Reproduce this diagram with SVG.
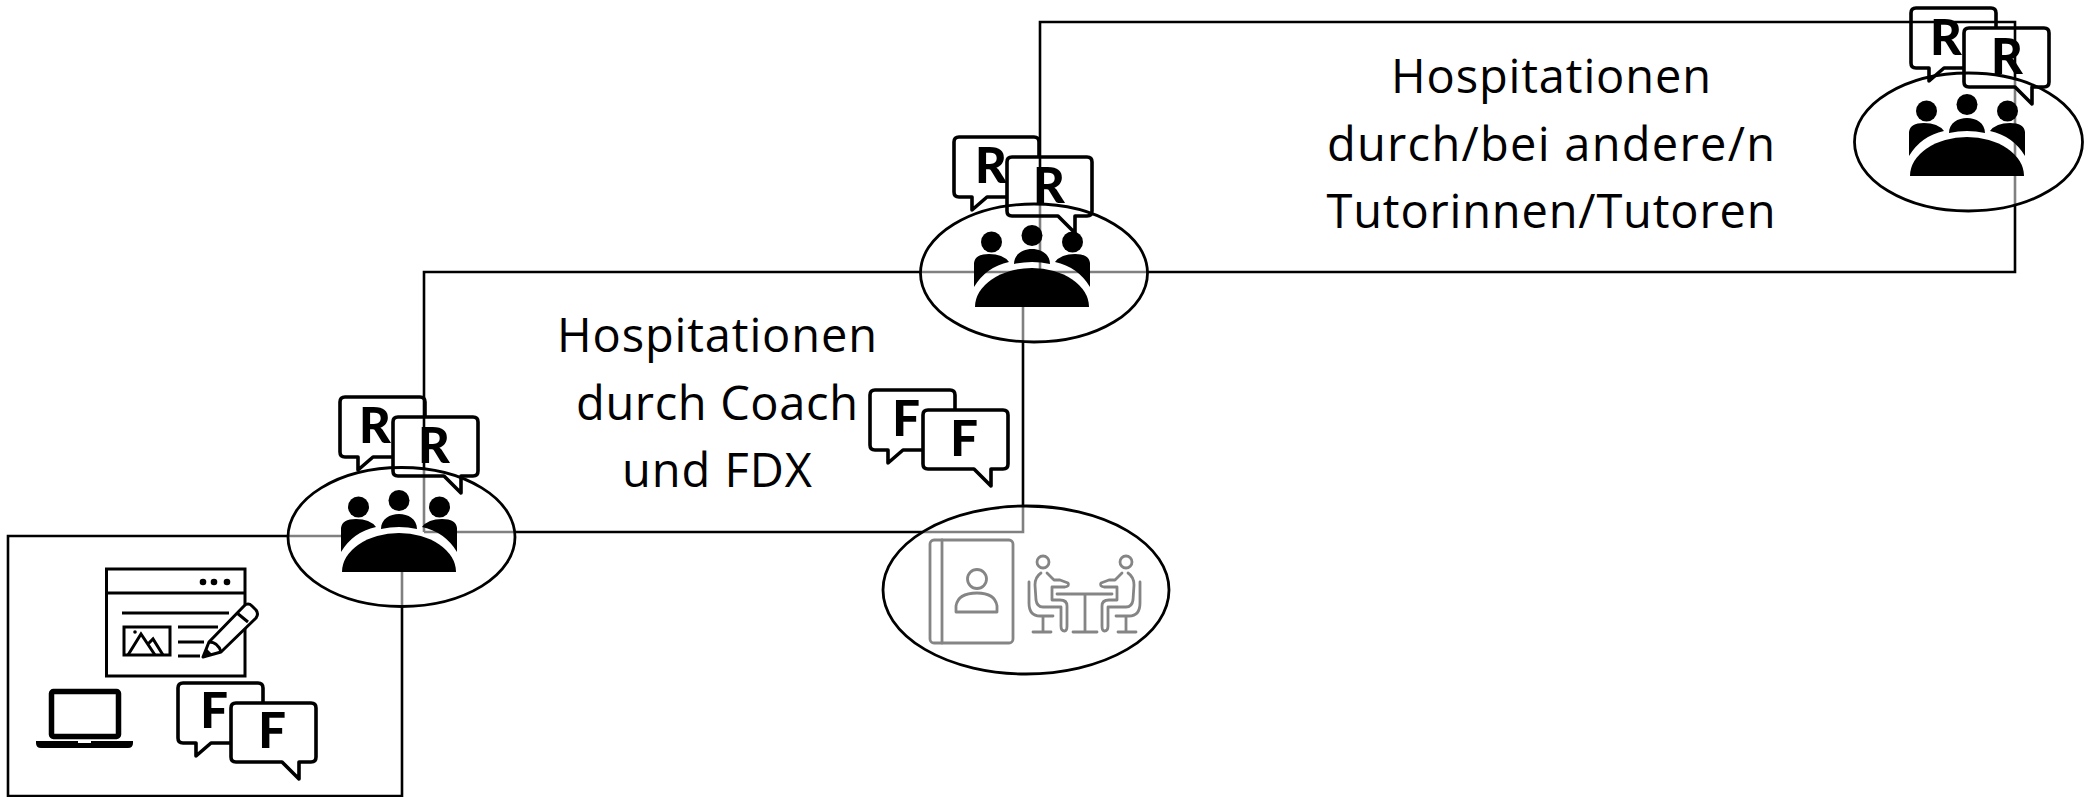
<svg xmlns="http://www.w3.org/2000/svg" width="2089" height="797" viewBox="0 0 2089 797">
<style>
.wire{fill:none;stroke:#000;stroke-width:2.6}
.oval{fill:#fff;fill-opacity:.5;stroke:#000;stroke-width:2.8}
.bub{fill:none;stroke:#000;stroke-width:3.6;stroke-linejoin:round}
.let{font-family:Lato,"Liberation Sans",sans-serif;font-weight:900;font-size:49px;fill:#000;text-anchor:middle}
.lab{font-family:"Open Sans","Liberation Sans",sans-serif;font-size:47px;fill:#000;text-anchor:middle}
.ico{fill:none;stroke:#000;stroke-width:3}
.gry{fill:none;stroke:#858585;stroke-width:2.8;stroke-linejoin:round;stroke-linecap:round}
</style>
<defs>
<g id="people">
<path d="M-57,0A57,39 0 0 1 57,0Z"/>
<path d="M-18,-43C-18,-53 -9,-58 0,-58C9,-58 18,-53 18,-43Q0,-47 -18,-43Z"/>
<path d="M-58,-20V-44Q-57,-53 -43,-53Q-29,-53 -23,-45Q-46,-40 -58,-20Z"/>
<path d="M58,-20V-44Q57,-53 43,-53Q29,-53 23,-45Q46,-40 58,-20Z"/>
<circle cx="-40.500" cy="-65" r="10.500"/><circle cx="0" cy="-71.500" r="10.500"/><circle cx="40.500" cy="-65" r="10.500"/>
</g>
<path id="bubbles" class="bub" d="M85,20V5Q85,0 80,0H5Q0,0 0,5V55Q0,60 5,60H18V73L33,60H53M58,20H133Q138,20 138,25V74Q138,79 133,79H121V96L104,79H58Q53,79 53,74V25Q53,20 58,20Z"/>
<g id="seat">
<path d="M1029,582V603Q1029,616 1040,616H1053M1043,616V632M1033,632H1051"/>
<path d="M1041,573Q1035,577 1035,585L1036,600Q1037,607 1043,607H1061V626Q1061,631 1064.500,631Q1067,631 1067,626V606Q1067,600 1060,600H1052V587H1065Q1070,586 1068,583L1060,580H1054L1047,573"/>
<circle cx="1043" cy="562" r="6"/>
</g>
</defs>
<g id="connectors">
<path class="wire" d="M402,572V796H8V536H345"/>
<path class="wire" d="M424,532V272H2015V22H1040V272M424,532H1023V306"/>
</g>
<g id="node-start">
<ellipse class="oval" cx="401.500" cy="537" rx="113.500" ry="69.500"/>
<use href="#people" x="399" y="572"/>
<use href="#bubbles" x="340" y="397"/>
<text class="let" x="375" y="443">R</text>
<text class="let" x="434" y="463">R</text>
</g>
<g id="node-mid">
<ellipse class="oval" cx="1034" cy="273" rx="113.500" ry="69"/>
<use href="#people" x="1032" y="307"/>
<use href="#bubbles" x="954" y="137"/>
<text class="let" x="991" y="183">R</text>
<text class="let" x="1049" y="203">R</text>
</g>
<g id="node-top">
<ellipse class="oval" cx="1968.500" cy="142" rx="114" ry="69"/>
<use href="#people" x="1967" y="176"/>
<use href="#bubbles" x="1911" y="8"/>
<text class="let" x="1946" y="55">R</text>
<text class="let" x="2007" y="74">R</text>
</g>
<g id="node-coach">
<ellipse class="oval" cx="1026" cy="590" rx="143" ry="84"/>
<rect class="gry" x="930" y="540" width="83" height="103" rx="4"/>
<path class="gry" d="M942,540V643M956,612V606Q958,593 977,593Q995,593 997,606V612Z"/>
<circle class="gry" cx="977" cy="579" r="9.500"/>
<path class="gry" d="M1057,594H1112M1085,594V632M1073,632H1097"/>
<use href="#seat" class="gry"/>
<use href="#seat" class="gry" transform="matrix(-1 0 0 1 2169 0)"/>
<use href="#bubbles" x="870" y="390"/>
<text class="let" x="906" y="436">F</text>
<text class="let" x="964" y="456">F</text>
</g>
<g id="node-work">
<rect class="ico" x="106.500" y="569" width="138.500" height="107"/>
<path class="ico" d="M106.500,593H245M122,613H229M178,627H218M178,642H204M178,656H200"/>
<circle cx="203" cy="582" r="3.300"/><circle cx="214" cy="582" r="3.300"/><circle cx="227" cy="582" r="3.300"/>
<rect class="ico" x="124" y="627" width="46" height="28" stroke-width="3.400"/>
<path class="ico" d="M128,655L141,634L155,655M147,645L153,639L163,655"/>
<circle cx="135" cy="632" r="1.800"/>
<path d="M203,657L209,642L244,606Q248,602 252,606L256,610Q259,614 256,618L221,652Z" fill="#fff" stroke="#000" stroke-width="3" stroke-linejoin="round"/>
<path class="ico" d="M237,613L248,622M209,642Q218,642 221,652"/>
<path d="M203,657L206,648L212,654Z"/>
<rect x="51.500" y="691.500" width="67" height="45" fill="none" stroke="#000" stroke-width="5.500" rx="2"/>
<path d="M36,741H133V743Q133,748 128,748H41Q36,748 36,743Z"/>
<rect x="78" y="741" width="13" height="2" fill="#fff"/>
<use href="#bubbles" x="178" y="683"/>
<text class="let" x="214" y="728">F</text>
<text class="let" x="272" y="748">F</text>
</g>
<g id="label-coach">
<text class="lab" x="717" y="352" textLength="320" lengthAdjust="spacing">Hospitationen</text>
<text class="lab" x="717" y="420" textLength="282" lengthAdjust="spacing">durch Coach</text>
<text class="lab" x="717" y="487" textLength="190" lengthAdjust="spacing">und FDX</text>
</g>
<g id="label-peers">
<text class="lab" x="1551" y="93" textLength="320" lengthAdjust="spacing">Hospitationen</text>
<text class="lab" x="1551" y="161" textLength="448" lengthAdjust="spacing">durch/bei andere/n</text>
<text class="lab" x="1551" y="228" textLength="449" lengthAdjust="spacing">Tutorinnen/Tutoren</text>
</g>
</svg>
